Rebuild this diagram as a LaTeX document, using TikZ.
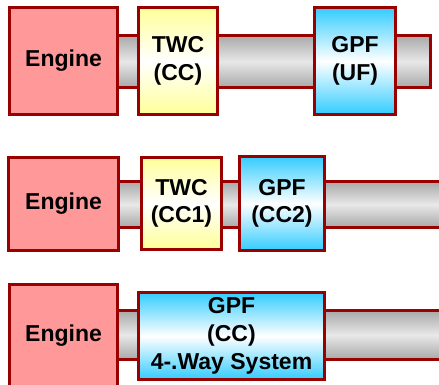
\documentclass[tikz,border=0pt]{standalone}
\usepackage{fontspec}
\setmainfont{Liberation Sans}
\definecolor{bord}{HTML}{990000}
\definecolor{engfill}{HTML}{FF9999}
\definecolor{cyanc}{HTML}{33CCFF}
\definecolor{yelc}{HTML}{FFFF99}
\definecolor{pipeg}{HTML}{A8A8A8}
\definecolor{pipel}{HTML}{E8E8E8}
\begin{document}
\begin{tikzpicture}[x=1pt,y=-1pt,
  box/.style={draw=bord, line width=3pt, inner sep=0pt, align=center,
    font=\bfseries\fontsize{23}{27.5}\selectfont},
  engbox/.style={box, fill=engfill},
  twcbox/.style={box, top color=yelc, bottom color=yelc, middle color=white},
  gpfbox/.style={box, top color=cyanc, bottom color=cyanc, middle color=white},
  pipe/.style={draw=bord, line width=3pt, top color=pipeg, bottom color=pipeg, middle color=pipel}
]
\clip (0,0) rectangle (439,385);
% Row 1
\draw[pipe] (117.5,35.5) rectangle (430.5,87.5);
\node[engbox, minimum width=108pt, minimum height=107pt] (eng1) at (63.5,61) {Engine};
\node[twcbox, minimum width=79pt, minimum height=107pt] (twc1) at (178,61) {TWC\\(CC)};
\node[gpfbox, minimum width=81pt, minimum height=107pt] (gpf1) at (355,61) {GPF\\(UF)};
% Row 2
\draw[pipe] (118.5,181.5) rectangle (455,227.5);
\node[engbox, minimum width=110pt, minimum height=93pt] (eng2) at (63.5,204) {Engine};
\node[twcbox, minimum width=80pt, minimum height=91.5pt] (twc2) at (181.5,203.25) {TWC\\(CC1)};
\node[gpfbox, minimum width=85pt, minimum height=94pt] (gpf2) at (282,203.5) {GPF\\(CC2)};
% Row 3
\draw[pipe] (117.5,310.5) rectangle (455,359.5);
\node[engbox, minimum width=108pt, minimum height=115.5pt] (eng3) at (63.5,342.25) {};
\node[font=\bfseries\fontsize{23}{27.5}\selectfont] (eng3t) at (63.5,336) {Engine};
\node[gpfbox, minimum width=186pt, minimum height=87pt, font=\bfseries\fontsize{23}{28}\selectfont] (gpf3) at (231.5,336) {GPF\\(CC)\\4-.Way System};
\end{tikzpicture}
\end{document}
